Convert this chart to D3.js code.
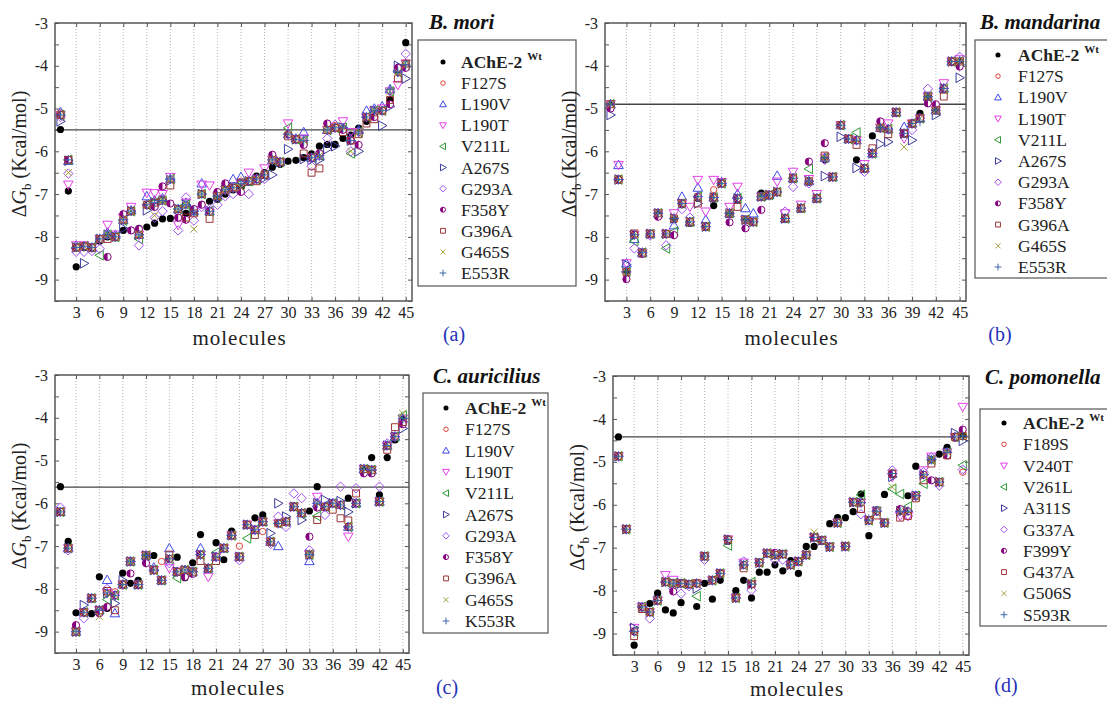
<!DOCTYPE html>
<html>
<head>
<meta charset="utf-8">
<script src="https://cdn.jsdelivr.net/npm/d3@7"></script>
<style>
  body { margin: 0; background: #fff; }
  svg { font-family: "Liberation Serif", "Times New Roman", serif; }
</style>
</head>
<body>
<svg id="chart" width="1107" height="702"></svg>
<script>
// molecules on the x axis, binding energies (kcal/mol) on y
const molecules = d3.range(1, 46)
const xTicks = d3.range(3, 46, 3)
const yTicks = [-3, -4, -5, -6, -7, -8, -9]

// ---- (a) B. mori ----
const namesA = ["AChE-2", "F127S", "L190V", "L190T", "V211L", "A267S", "G293A", "F358Y", "G396A", "G465S", "E553R"]
const wtA = [-5.49, -6.93, -8.70, -8.25, -8.25, -8.10, -8.00, -8.02, -7.85, -7.85, -7.80, -7.77, -7.68, -7.58, -7.57,
  -7.55, -7.45, -7.40, -7.24, -7.17, -7.12, -7.00, -6.90, -6.85, -6.72, -6.58, -6.50, -6.37, -6.30, -6.23,
  -6.21, -6.15, -6.06, -5.88, -5.84, -5.84, -5.70, -5.62, -5.46, -5.30, -5.12, -5.05, -4.80, -4.10, -3.46]
const f127sA = [-5.10, -6.20, -8.25, -8.20, -8.25, -8.05, -7.95, -8.00, -7.60, -7.40, -7.95, -7.25, -7.20, -7.12, -6.65,
  -7.35, -7.25, -7.40, -7.00, -7.40, -7.05, -6.90, -6.85, -6.70, -6.70, -6.62, -6.55, -6.20, -6.25, -5.60,
  -5.72, -5.75, -6.15, -6.05, -5.35, -5.40, -5.45, -5.75, -5.55, -5.20, -5.05, -5.05, -4.60, -4.15, -3.95]
const l190vA = [-5.08, -6.22, -8.20, -8.22, -8.25, -8.05, -7.90, -7.95, -7.60, -7.38, -7.95, -7.05, -7.15, -7.10, -6.65,
  -7.35, -7.20, -7.40, -6.75, -7.40, -7.05, -6.90, -6.65, -6.60, -6.70, -6.65, -6.55, -6.20, -6.25, -5.60,
  -5.70, -5.55, -6.15, -6.10, -5.50, -5.45, -5.45, -5.70, -5.50, -5.05, -5.00, -4.95, -4.55, -4.05, -3.95]
const l190tA = [-5.15, -6.78, -8.20, -8.20, -8.25, -8.05, -7.72, -7.95, -7.55, -7.30, -7.95, -6.97, -6.98, -7.00, -6.60,
  -7.72, -7.20, -7.40, -6.78, -6.80, -7.05, -6.90, -6.85, -6.75, -6.50, -6.65, -6.40, -6.20, -6.25, -5.35,
  -5.72, -5.70, -6.15, -6.10, -5.50, -5.45, -5.30, -5.55, -5.55, -5.20, -5.05, -5.00, -4.60, -4.45, -3.95]
const v211lA = [-5.15, -6.20, -8.25, -8.22, -8.25, -8.43, -7.95, -8.00, -7.62, -7.40, -8.05, -7.25, -7.20, -7.15, -6.65,
  -7.35, -7.25, -7.40, -7.00, -7.40, -7.05, -6.90, -6.85, -6.75, -6.70, -6.65, -6.55, -6.20, -6.25, -5.45,
  -5.72, -5.75, -6.15, -6.10, -5.50, -5.45, -5.45, -6.05, -5.55, -5.20, -5.05, -5.05, -4.60, -4.15, -3.98]
const a267sA = [-5.30, -6.22, -8.25, -8.62, -8.25, -8.05, -7.95, -8.00, -7.80, -7.40, -7.95, -7.38, -7.20, -7.15, -6.68,
  -7.35, -7.25, -7.40, -7.00, -7.40, -7.05, -6.90, -6.85, -6.75, -6.70, -6.65, -6.62, -6.55, -6.25, -5.95,
  -5.72, -6.18, -6.20, -6.20, -5.95, -5.88, -5.45, -5.75, -6.00, -5.20, -5.05, -5.40, -4.95, -4.00, -4.30]
const g293aA = [-5.20, -6.52, -8.35, -8.35, -8.33, -8.28, -7.95, -8.00, -7.60, -7.40, -8.20, -7.25, -7.55, -7.40, -6.65,
  -7.85, -7.08, -7.62, -7.30, -7.35, -7.25, -7.05, -7.00, -6.75, -7.00, -6.65, -6.65, -6.20, -6.25, -5.60,
  -5.72, -5.75, -6.35, -6.10, -5.70, -5.38, -5.45, -6.00, -5.55, -5.20, -5.05, -5.05, -4.60, -4.15, -3.72]
const f358yA = [-5.15, -6.20, -8.25, -8.22, -8.25, -8.05, -8.47, -8.00, -7.47, -7.85, -7.82, -7.25, -7.30, -6.82, -7.22,
  -7.55, -7.60, -7.35, -7.25, -7.40, -6.95, -6.75, -6.85, -6.95, -6.70, -6.65, -6.55, -6.08, -6.25, -5.60,
  -5.72, -5.85, -6.15, -6.05, -5.35, -5.45, -5.50, -5.75, -5.85, -5.20, -5.20, -5.05, -4.90, -4.05, -4.05]
const g396aA = [-5.15, -6.20, -8.25, -8.22, -8.25, -8.05, -8.05, -8.00, -7.60, -7.40, -7.95, -7.25, -7.20, -7.15, -6.80,
  -7.35, -7.55, -7.45, -7.00, -7.58, -7.05, -6.90, -6.85, -6.75, -6.70, -6.70, -6.55, -6.20, -6.25, -5.65,
  -5.72, -6.05, -6.50, -6.40, -5.50, -5.45, -5.55, -5.75, -5.60, -5.35, -5.25, -5.05, -4.80, -4.30, -3.95]
const g465sA = [-5.15, -6.50, -8.25, -8.22, -8.25, -8.05, -7.95, -8.00, -7.60, -7.40, -7.95, -7.25, -7.50, -7.15, -6.65,
  -7.35, -7.25, -7.82, -7.00, -7.45, -7.05, -6.90, -6.85, -6.85, -6.70, -6.65, -6.55, -6.20, -6.25, -5.60,
  -5.72, -5.75, -6.15, -6.10, -5.50, -5.45, -5.45, -6.00, -5.55, -5.20, -5.05, -5.05, -4.60, -4.15, -3.98]
const e553rA = [-5.15, -6.20, -8.25, -8.22, -8.25, -8.05, -7.95, -8.00, -7.60, -7.40, -7.95, -7.25, -7.20, -7.15, -6.65,
  -7.35, -7.25, -7.40, -7.00, -7.40, -7.05, -6.90, -6.85, -6.75, -6.70, -6.65, -6.55, -6.20, -6.25, -5.60,
  -5.72, -5.75, -6.15, -6.10, -5.50, -5.45, -5.45, -5.75, -5.55, -5.20, -5.05, -5.05, -4.55, -4.15, -3.98]

// ---- (b) B. mandarina ----
const namesB = namesA
const wtB = [-4.92, -6.66, -8.80, -7.95, -8.40, -7.95, -7.48, -7.95, -7.60, -7.25, -7.68, -7.10, -7.78, -7.27, -6.75,
  -7.48, -7.15, -7.62, -7.65, -6.98, -7.05, -6.97, -7.58, -6.65, -7.35, -6.72, -7.10, -6.20, -6.60, -5.40,
  -5.72, -6.20, -6.42, -5.64, -5.47, -5.50, -5.10, -5.60, -5.37, -5.11, -4.75, -5.05, -4.55, -3.92, -3.92]
const f127sB = [-4.90, -6.66, -8.82, -7.95, -8.37, -7.93, -7.45, -7.93, -7.57, -7.22, -7.65, -7.06, -7.76, -6.90, -6.75,
  -7.45, -7.10, -7.60, -7.65, -7.06, -7.02, -6.95, -7.57, -6.63, -7.33, -6.70, -7.10, -6.15, -6.60, -5.39,
  -5.71, -5.74, -6.40, -6.05, -5.45, -5.48, -5.09, -5.58, -5.35, -5.23, -4.72, -5.04, -4.53, -3.90, -3.90]
const l190vB = [-4.90, -6.32, -8.62, -8.05, -8.37, -7.93, -7.45, -7.93, -7.73, -7.06, -7.65, -6.85, -7.60, -7.08, -6.72,
  -7.45, -7.00, -7.33, -7.45, -7.06, -7.02, -6.57, -7.57, -6.63, -7.33, -6.70, -7.10, -6.15, -6.60, -5.39,
  -5.71, -5.74, -6.40, -6.05, -5.45, -5.48, -5.09, -5.43, -5.35, -5.23, -4.72, -5.04, -4.53, -3.90, -3.90]
const l190tB = [-4.90, -6.32, -8.62, -7.95, -8.37, -7.93, -7.45, -7.93, -7.45, -7.22, -7.30, -6.67, -7.41, -6.67, -6.72,
  -7.30, -6.83, -7.60, -7.65, -7.06, -7.02, -6.71, -7.45, -6.48, -7.25, -6.65, -7.00, -6.15, -6.60, -5.39,
  -5.71, -5.74, -6.30, -6.05, -5.45, -5.35, -5.09, -5.70, -5.35, -5.23, -4.72, -5.04, -4.41, -3.90, -3.85]
const v211lB = [-4.90, -6.66, -8.82, -8.10, -8.37, -7.93, -7.45, -8.27, -7.88, -7.22, -7.65, -7.06, -7.76, -7.08, -6.75,
  -7.45, -7.10, -7.60, -7.65, -7.06, -7.02, -6.95, -7.57, -6.63, -7.33, -6.41, -7.10, -6.15, -6.60, -5.39,
  -5.71, -5.56, -6.40, -6.05, -5.45, -5.48, -5.09, -5.58, -5.35, -5.23, -4.72, -5.04, -4.53, -3.90, -3.90]
const a267sB = [-5.15, -6.66, -8.65, -7.95, -8.37, -7.93, -7.45, -7.93, -7.57, -7.22, -7.65, -7.22, -7.76, -7.08, -6.75,
  -7.45, -7.10, -7.60, -7.65, -7.06, -7.02, -6.95, -7.57, -6.63, -7.33, -6.70, -7.10, -6.58, -6.60, -5.66,
  -5.71, -6.39, -6.40, -6.05, -5.83, -5.78, -5.09, -5.58, -5.74, -5.23, -4.72, -5.15, -4.53, -3.90, -4.28]
const g293aB = [-4.90, -6.66, -8.82, -8.27, -8.37, -7.97, -7.45, -8.20, -7.57, -7.35, -7.55, -7.06, -7.76, -7.08, -6.75,
  -7.45, -7.10, -7.60, -7.65, -7.06, -7.02, -6.95, -7.41, -6.83, -7.33, -6.75, -7.10, -6.20, -6.60, -5.39,
  -5.71, -5.74, -6.48, -6.05, -5.45, -5.48, -5.09, -5.58, -5.50, -5.23, -4.54, -5.04, -4.53, -3.90, -3.79]
const f358yB = [-5.00, -6.66, -8.99, -7.95, -8.40, -7.93, -7.53, -7.93, -7.96, -7.22, -7.65, -7.06, -7.76, -7.08, -6.75,
  -7.66, -7.10, -7.80, -7.65, -7.37, -7.02, -6.95, -7.57, -6.63, -7.33, -6.24, -7.10, -5.81, -6.60, -5.39,
  -5.71, -5.74, -6.40, -6.05, -5.30, -5.48, -5.09, -5.58, -5.35, -5.23, -4.88, -4.90, -4.53, -3.90, -4.02]
const g396aB = [-4.90, -6.66, -8.82, -7.92, -8.37, -7.93, -7.45, -7.93, -7.57, -7.22, -7.65, -7.22, -7.76, -7.08, -6.75,
  -7.45, -7.30, -7.60, -7.65, -7.06, -7.02, -6.95, -7.57, -6.63, -7.33, -6.70, -7.10, -6.10, -6.60, -5.39,
  -5.71, -5.85, -6.40, -5.93, -5.45, -5.60, -5.09, -5.58, -5.35, -5.23, -4.72, -5.04, -4.72, -3.90, -3.90]
const g465sB = [-4.90, -6.66, -8.82, -7.95, -8.37, -7.93, -7.45, -7.93, -7.57, -7.22, -7.65, -7.06, -7.76, -7.08, -6.75,
  -7.45, -7.10, -7.60, -7.65, -7.06, -7.02, -6.95, -7.57, -6.63, -7.33, -6.70, -7.10, -6.15, -6.60, -5.39,
  -5.71, -5.74, -6.40, -6.05, -5.45, -5.48, -5.09, -5.90, -5.35, -5.23, -4.72, -5.04, -4.53, -3.90, -3.90]
const e553rB = [-4.90, -6.66, -8.82, -7.95, -8.37, -7.93, -7.45, -7.93, -7.57, -7.22, -7.65, -7.06, -7.76, -7.08, -6.75,
  -7.45, -7.10, -7.60, -7.65, -7.06, -7.02, -6.95, -7.57, -6.63, -7.33, -6.70, -7.10, -6.15, -6.60, -5.39,
  -5.71, -5.74, -6.40, -6.05, -5.45, -5.48, -5.09, -5.58, -5.35, -5.30, -4.72, -5.04, -4.53, -3.90, -3.90]

// ---- (c) C. auricilius ----
const namesC = ["AChE-2", "F127S", "L190V", "L190T", "V211L", "A267S", "G293A", "F358Y", "G396A", "G465S", "K553R"]
const wtC = [-5.61, -6.89, -8.56, -8.55, -8.58, -7.72, -8.46, -8.15, -7.63, -7.87, -7.80, -7.22, -7.22, -7.80, -7.30,
  -7.26, -7.74, -7.39, -6.73, -7.52, -6.92, -7.32, -6.65, -7.25, -6.50, -6.34, -6.27, -6.90, -6.47, -6.45,
  -6.08, -6.23, -6.18, -5.61, -6.08, -6.00, -6.04, -5.88, -6.00, -5.20, -4.93, -5.80, -4.93, -4.52, -4.02]
const f127sC = [-6.20, -7.05, -9.00, -8.55, -8.22, -8.50, -8.10, -8.07, -7.90, -7.36, -7.90, -7.22, -7.56, -7.36, -7.30,
  -7.60, -7.56, -7.60, -7.20, -7.52, -7.25, -7.05, -6.75, -7.00, -6.50, -6.62, -6.66, -6.90, -6.47, -6.43,
  -6.08, -6.23, -7.20, -6.00, -6.08, -6.00, -6.04, -6.55, -6.00, -5.20, -5.22, -5.96, -4.65, -4.44, -4.02]
const l190vC = [-6.20, -7.05, -9.00, -8.55, -8.22, -8.50, -7.79, -8.57, -7.90, -7.36, -7.90, -7.22, -7.50, -7.80, -7.05,
  -7.60, -7.56, -7.60, -7.05, -7.52, -7.25, -7.05, -6.75, -7.25, -6.50, -6.62, -6.43, -6.90, -7.00, -6.43,
  -6.08, -6.23, -7.35, -6.00, -6.08, -6.00, -6.04, -6.55, -6.00, -5.20, -5.22, -5.96, -4.65, -4.44, -4.02]
const l190tC = [-6.20, -7.05, -9.00, -8.55, -8.22, -8.50, -8.10, -8.15, -7.90, -7.36, -7.90, -7.22, -7.56, -7.80, -7.52,
  -7.60, -7.56, -7.60, -7.20, -7.72, -7.25, -7.05, -6.75, -7.25, -6.50, -6.62, -6.43, -6.90, -6.47, -6.43,
  -6.08, -6.23, -7.20, -5.85, -6.08, -6.00, -6.04, -6.78, -6.00, -5.20, -5.22, -5.96, -4.65, -4.44, -4.02]
const v211lC = [-6.20, -7.05, -9.00, -8.55, -8.22, -8.50, -8.25, -8.15, -7.90, -7.36, -7.90, -7.22, -7.56, -7.80, -7.30,
  -7.75, -7.56, -7.60, -7.20, -7.52, -7.15, -7.05, -6.75, -7.25, -6.82, -6.62, -6.43, -6.90, -6.47, -6.43,
  -6.08, -6.23, -7.20, -6.30, -6.08, -6.00, -6.04, -6.55, -6.00, -5.20, -5.22, -5.96, -4.65, -4.44, -3.95]
const a267sC = [-6.20, -7.05, -9.00, -8.38, -8.22, -8.50, -8.10, -8.34, -7.80, -7.36, -7.90, -7.22, -7.56, -7.80, -7.30,
  -7.60, -7.56, -7.60, -7.20, -7.52, -7.25, -7.05, -6.75, -7.25, -6.50, -6.62, -6.43, -6.70, -6.00, -6.31,
  -6.08, -6.39, -7.20, -6.00, -5.92, -6.00, -5.95, -6.20, -6.00, -5.20, -5.22, -5.96, -4.65, -4.44, -4.25]
const g293aC = [-6.10, -7.10, -9.00, -8.69, -8.22, -8.50, -8.00, -8.15, -7.90, -7.36, -7.90, -7.22, -7.56, -7.80, -7.40,
  -7.60, -7.56, -7.60, -7.20, -7.52, -7.25, -7.05, -6.75, -7.33, -6.50, -6.62, -6.43, -6.95, -6.31, -6.55,
  -5.77, -5.88, -7.10, -6.00, -6.27, -6.00, -5.61, -6.55, -5.65, -5.20, -5.22, -5.61, -4.60, -4.44, -4.02]
const f358yC = [-6.20, -7.05, -8.85, -8.55, -8.22, -8.57, -8.42, -8.15, -7.90, -7.64, -7.90, -7.40, -7.56, -7.80, -7.30,
  -7.60, -7.72, -7.65, -7.20, -7.52, -7.25, -7.05, -6.75, -7.25, -6.50, -6.62, -6.43, -6.90, -6.47, -6.43,
  -6.08, -6.23, -6.78, -6.10, -6.08, -6.00, -6.04, -6.55, -6.00, -5.30, -5.30, -5.96, -4.65, -4.44, -4.15]
const g396aC = [-6.20, -7.05, -9.00, -8.55, -8.22, -8.50, -8.05, -8.50, -7.90, -7.36, -7.90, -7.22, -7.56, -7.80, -7.20,
  -7.60, -7.56, -7.60, -7.35, -7.52, -7.35, -7.05, -6.75, -7.25, -6.50, -6.74, -6.43, -6.90, -6.47, -6.43,
  -6.08, -6.23, -7.20, -6.39, -6.08, -6.15, -6.35, -6.40, -5.77, -5.20, -5.22, -5.96, -4.75, -4.22, -4.10]
const g465sC = [-6.20, -7.05, -9.00, -8.55, -8.22, -8.65, -8.10, -8.15, -7.90, -7.36, -7.90, -7.22, -7.56, -7.80, -7.30,
  -7.60, -7.56, -7.60, -7.20, -7.52, -7.25, -7.05, -6.75, -7.25, -6.50, -6.62, -6.43, -6.90, -6.47, -6.43,
  -6.08, -6.23, -7.20, -6.00, -6.08, -6.00, -6.04, -6.55, -6.00, -5.20, -5.22, -5.96, -4.65, -4.44, -3.90]
const k553rC = [-6.20, -7.05, -9.00, -8.55, -8.22, -8.50, -8.10, -8.15, -7.90, -7.36, -7.90, -7.22, -7.56, -7.80, -7.30,
  -7.60, -7.56, -7.60, -7.20, -7.52, -7.25, -7.05, -6.75, -7.25, -6.50, -6.62, -6.43, -6.90, -6.47, -6.43,
  -6.08, -6.23, -7.20, -6.00, -6.08, -6.00, -6.04, -6.55, -6.00, -5.20, -5.22, -5.96, -4.65, -4.44, -4.02]

// ---- (d) C. pomonella ----
const namesD = ["AChE-2", "F189S", "V240T", "V261L", "A311S", "G337A", "F399Y", "G437A", "G506S", "S593R"]
const wtD = [-4.42, -6.58, -9.27, -8.40, -8.30, -8.06, -8.45, -8.52, -8.28, -7.87, -8.37, -7.83, -8.20, -7.76, -6.85,
  -8.00, -7.76, -8.17, -7.57, -7.57, -7.40, -7.54, -7.30, -7.60, -6.97, -6.97, -6.85, -6.44, -6.30, -6.30,
  -6.16, -5.75, -6.72, -6.12, -5.76, -5.30, -6.15, -5.79, -5.10, -5.30, -4.95, -4.82, -4.66, -4.45, -4.37]
const f189sD = [-4.87, -6.57, -8.95, -8.38, -8.50, -8.23, -7.80, -7.83, -7.83, -7.85, -7.83, -7.20, -7.76, -7.60, -6.81,
  -8.17, -7.40, -7.85, -7.35, -7.13, -7.17, -7.15, -7.40, -7.32, -7.17, -6.76, -6.83, -6.98, -6.42, -6.97,
  -5.94, -5.95, -6.36, -6.15, -6.42, -5.27, -6.15, -6.15, -5.79, -5.30, -4.95, -5.47, -4.78, -4.42, -5.24]
const v240tD = [-4.87, -6.57, -8.87, -8.38, -8.50, -8.23, -7.64, -7.75, -7.83, -7.85, -7.83, -7.20, -7.76, -7.60, -6.81,
  -8.17, -7.35, -7.85, -7.35, -7.13, -7.17, -7.15, -7.40, -7.32, -7.17, -6.76, -6.83, -6.98, -6.42, -6.97,
  -5.94, -5.95, -6.36, -6.15, -6.42, -5.35, -6.26, -6.26, -5.79, -5.20, -4.88, -5.47, -4.78, -4.42, -3.72]
const v261lD = [-4.87, -6.57, -8.95, -8.38, -8.50, -8.23, -7.80, -7.83, -7.83, -7.85, -8.13, -7.20, -7.76, -7.60, -6.95,
  -8.17, -7.40, -7.80, -7.35, -7.13, -7.17, -7.15, -7.40, -7.32, -7.17, -6.76, -6.83, -6.98, -6.42, -6.97,
  -5.94, -5.77, -6.36, -6.15, -6.42, -5.63, -5.75, -6.04, -5.79, -5.51, -4.95, -5.47, -4.78, -4.42, -5.08]
const a311sD = [-4.87, -6.57, -8.87, -8.38, -8.50, -8.23, -7.80, -7.83, -7.83, -7.85, -7.95, -7.20, -7.76, -7.60, -6.81,
  -8.17, -7.40, -7.85, -7.35, -7.13, -7.17, -7.15, -7.40, -7.32, -7.17, -6.76, -6.83, -6.98, -6.42, -6.97,
  -5.94, -5.95, -6.36, -6.15, -6.42, -5.35, -6.15, -6.15, -5.79, -5.30, -4.95, -5.47, -4.78, -4.33, -4.51]
const g337aD = [-4.87, -6.57, -8.95, -8.38, -8.65, -8.23, -7.80, -7.95, -8.07, -7.90, -7.83, -7.28, -7.76, -7.60, -6.81,
  -8.17, -7.32, -7.99, -7.35, -7.13, -7.28, -7.28, -7.40, -7.32, -7.17, -6.76, -6.83, -6.98, -6.42, -6.97,
  -5.94, -6.22, -6.36, -6.15, -6.42, -5.20, -6.15, -6.26, -5.79, -5.24, -4.90, -5.55, -4.78, -4.42, -5.18]
const f399yD = [-4.87, -6.57, -8.95, -8.38, -8.50, -8.23, -7.80, -8.02, -7.83, -7.85, -7.83, -7.20, -7.76, -7.60, -6.81,
  -8.17, -7.40, -7.85, -7.35, -7.13, -7.12, -7.15, -7.40, -7.32, -7.17, -6.76, -6.83, -6.98, -6.42, -6.97,
  -5.94, -5.95, -6.36, -6.15, -6.42, -5.27, -6.10, -6.15, -5.79, -5.30, -5.43, -5.47, -4.85, -4.42, -4.25]
const g437aD = [-4.87, -6.57, -9.06, -8.43, -8.50, -8.23, -7.80, -7.83, -7.83, -7.85, -7.83, -7.20, -7.76, -7.60, -6.81,
  -8.17, -7.48, -7.85, -7.35, -7.13, -7.17, -7.15, -7.40, -7.32, -7.17, -6.76, -6.83, -6.98, -6.42, -6.97,
  -5.94, -6.10, -6.36, -6.25, -6.42, -5.27, -6.30, -6.26, -5.85, -5.43, -5.04, -5.47, -4.85, -4.42, -4.40]
const g506sD = [-4.87, -6.57, -8.95, -8.38, -8.50, -8.23, -7.80, -7.83, -7.83, -7.85, -7.83, -7.20, -7.76, -7.60, -6.81,
  -8.17, -7.40, -7.80, -7.35, -7.13, -7.17, -7.15, -7.40, -7.32, -7.17, -6.64, -6.83, -6.98, -6.42, -6.97,
  -5.94, -5.95, -6.36, -6.15, -6.42, -5.59, -6.15, -6.15, -5.79, -5.30, -4.95, -5.47, -4.78, -4.42, -4.40]
const s593rD = [-4.87, -6.57, -8.95, -8.38, -8.50, -8.23, -7.80, -7.83, -7.83, -7.85, -7.83, -7.20, -7.76, -7.60, -6.81,
  -8.17, -7.40, -7.85, -7.35, -7.13, -7.17, -7.15, -7.40, -7.32, -7.17, -6.76, -6.83, -6.98, -6.42, -6.97,
  -5.94, -5.95, -6.36, -6.15, -6.42, -5.27, -6.15, -6.15, -5.79, -5.30, -4.95, -5.47, -4.78, -4.42, -4.40]

// marker styles, one per legend row
const WT = { shape: "dot", color: "#000" }
const RED = { shape: "circle", color: "#e0443a" }
const UP = { shape: "up", color: "#3f48e6" }
const DOWN = { shape: "down", color: "#e440e8" }
const LEFT = { shape: "left", color: "#2f9a35" }
const RIGHT = { shape: "right", color: "#3b3b9c" }
const DIAM = { shape: "diamond", color: "#a252f0" }
const HALF = { shape: "half", color: "#86007f" }
const SQR = { shape: "square", color: "#9c3434" }
const CROSS = { shape: "x", color: "#a3a13e" }
const PLUS = { shape: "plus", color: "#3a66a8" }

const panels = [
  {
    title: "B. mori", letter: "(a)", names: namesA, cutoff: -5.5,
    series: [wtA, f127sA, l190vA, l190tA, v211lA, a267sA, g293aA, f358yA, g396aA, g465sA, e553rA],
    styles: [WT, RED, UP, DOWN, LEFT, RIGHT, DIAM, HALF, SQR, CROSS, PLUS],
    x0: 55, x1: 412, y0: 23, y1: 301, labelY: 345,
    legend: { x: 418, y: 40, w: 158, h: 246, mx: 443, tx: 461, first: 62, step: 21.1 },
    titleX: 429, titleY: 29, letterX: 454, letterY: 341
  },
  {
    title: "B. mandarina", letter: "(b)", names: namesB, cutoff: -4.9,
    series: [wtB, f127sB, l190vB, l190tB, v211lB, a267sB, g293aB, f358yB, g396aB, g465sB, e553rB],
    styles: [WT, RED, UP, DOWN, LEFT, RIGHT, DIAM, HALF, SQR, CROSS, PLUS],
    x0: 605, x1: 966, y0: 23, y1: 301, labelY: 345,
    legend: { x: 975, y: 40, w: 150, h: 238, mx: 998, tx: 1018, first: 55, step: 21.2 },
    titleX: 980, titleY: 29, letterX: 1000, letterY: 341
  },
  {
    title: "C. auricilius", letter: "(c)", names: namesC, cutoff: -5.62,
    series: [wtC, f127sC, l190vC, l190tC, v211lC, a267sC, g293aC, f358yC, g396aC, g465sC, k553rC],
    styles: [WT, RED, UP, DOWN, LEFT, RIGHT, DIAM, HALF, SQR, CROSS, PLUS],
    x0: 55, x1: 409, y0: 375, y1: 653, labelY: 695,
    legend: { x: 423, y: 393, w: 125, h: 240, mx: 446, tx: 465, first: 408, step: 21.3 },
    titleX: 433, titleY: 383, letterX: 447, letterY: 694
  },
  {
    title: "C. pomonella", letter: "(d)", names: namesD, cutoff: -4.42,
    series: [wtD, f189sD, v240tD, v261lD, a311sD, g337aD, f399yD, g437aD, g506sD, s593rD],
    styles: [WT, RED, DOWN, LEFT, RIGHT, DIAM, HALF, SQR, CROSS, PLUS],
    x0: 613, x1: 969, y0: 376, y1: 655, labelY: 696,
    legend: { x: 980, y: 409, w: 150, h: 217, mx: 1004, tx: 1023, first: 423, step: 21.3 },
    titleX: 985, titleY: 384, letterX: 1006, letterY: 692
  }
]

const svg = d3.select("#chart")

function markerPath(shape, r) {
  const s = r * 0.75
  switch (shape) {
    case "up": return `M0,${-r}L${r},${s}L${-r},${s}Z`
    case "down": return `M0,${r}L${r},${-s}L${-r},${-s}Z`
    case "left": return `M${-r},0L${s},${-r}L${s},${r}Z`
    case "right": return `M${r},0L${-s},${-r}L${-s},${r}Z`
    case "diamond": return `M0,${-r}L${r},0L0,${r}L${-r},0Z`
    case "square": return `M${-s},${-s}H${s}V${s}H${-s}Z`
    case "x": return `M${-s},${-s}L${s},${s}M${-s},${s}L${s},${-s}`
    case "plus": return `M${-r},0H${r}M0,${-r}V${r}`
    default: return `M${r},0A${r},${r} 0 1,1 ${-r},0A${r},${r} 0 1,1 ${r},0Z`
  }
}

function drawMarker(g, style, cx, cy, k) {
  const sizes = { dot: 3.6, circle: 3.2, half: 3.6, square: 4.6, diamond: 4.7 }
  const r = (sizes[style.shape] || 4.8) * k
  const m = g.append("g").attr("transform", `translate(${cx},${cy})`)
  if (style.shape === "dot") {
    m.append("path").attr("d", markerPath("circle", r)).attr("fill", style.color)
  } else if (style.shape === "half") {
    m.append("path").attr("d", markerPath("circle", r))
      .attr("fill", "#fff").attr("stroke", style.color).attr("stroke-width", 1)
    m.append("path").attr("d", `M0,${-r}A${r},${r} 0 0,0 0,${r}Z`).attr("fill", style.color)
  } else {
    m.append("path").attr("d", markerPath(style.shape, r))
      .attr("fill", "none").attr("stroke", style.color).attr("stroke-width", 1)
  }
}

panels.forEach(p => {
  const g = svg.append("g")
  const x = d3.scaleLinear().domain([0.3, 45.8]).range([p.x0, p.x1])
  const y = d3.scaleLinear().domain([-9.5, -3]).range([p.y1, p.y0])

  // dotted vertical grid
  g.append("g").selectAll("line")
    .data(xTicks)
    .enter().append("line")
    .attr("x1", d => x(d)).attr("x2", d => x(d))
    .attr("y1", p.y0).attr("y2", p.y1)
    .attr("stroke", "#b8b8b8").attr("stroke-width", 1)
    .attr("stroke-dasharray", "1,2")

  // axes with inward ticks
  const minorY = d3.range(-9.5, -2.9, 0.5)
  const fmt = d => Number.isInteger(d) && yTicks.includes(d) ? String(d) : ""
  g.append("g").attr("transform", `translate(${p.x0},0)`)
    .call(d3.axisLeft(y).tickValues(minorY).tickSize(-4).tickPadding(7).tickFormat(fmt))
  g.append("g").attr("transform", `translate(${p.x1},0)`)
    .call(d3.axisRight(y).tickValues(minorY).tickSize(-4).tickFormat(""))
  g.append("g").attr("transform", `translate(0,${p.y1})`)
    .call(d3.axisBottom(x).tickValues(xTicks).tickSize(-4).tickPadding(6).tickFormat(d => d))
  g.append("g").attr("transform", `translate(0,${p.y0})`)
    .call(d3.axisTop(x).tickValues(xTicks).tickSize(-4).tickFormat(""))
  g.selectAll(".domain").remove()
  g.selectAll(".tick line").attr("stroke", "#555")
  g.selectAll(".tick text")
    .style("font-family", "Liberation Serif, serif")
    .style("font-size", "16px").attr("fill", "#222")

  // cutoff line from the wild type of molecule 1
  g.append("line")
    .attr("x1", p.x0).attr("x2", p.x1)
    .attr("y1", y(p.cutoff)).attr("y2", y(p.cutoff))
    .attr("stroke", "#444").attr("stroke-width", 1.3)

  g.append("rect")
    .attr("x", p.x0).attr("y", p.y0)
    .attr("width", p.x1 - p.x0).attr("height", p.y1 - p.y0)
    .attr("fill", "none").attr("stroke", "#555").attr("stroke-width", 1.5)

  // points, wild type first so mutants sit on top
  p.series.forEach((vals, si) => {
    const sg = g.append("g")
    vals.forEach((v, i) => drawMarker(sg, p.styles[si], x(molecules[i]), y(v), 1))
  })

  // axis titles
  g.append("text")
    .attr("x", (p.x0 + p.x1) / 2 + 6).attr("y", p.labelY)
    .attr("text-anchor", "middle")
    .style("font-size", "21px").style("letter-spacing", "1px")
    .attr("fill", "#222")
    .text("molecules")

  const yl = g.append("text")
    .attr("transform", `translate(${p.x0 - 29},${(p.y0 + p.y1) / 2 - 8}) rotate(-90)`)
    .attr("text-anchor", "middle")
    .style("font-size", "20px").attr("fill", "#222")
  yl.append("tspan").text("Δ")
  yl.append("tspan").style("font-style", "italic").text("G")
  yl.append("tspan").attr("dy", 5).style("font-size", "13px").text("b")
  yl.append("tspan").attr("dy", -5).text("  (Kcal/mol)")

  // species title and panel letter
  g.append("text")
    .attr("x", p.titleX).attr("y", p.titleY)
    .style("font-size", "21px").style("font-weight", "bold").style("font-style", "italic")
    .attr("fill", "#111")
    .text(p.title)

  g.append("text")
    .attr("x", p.letterX).attr("y", p.letterY)
    .attr("text-anchor", "middle")
    .style("font-size", "20px").attr("fill", "#2430b8")
    .text(p.letter)

  // legend
  const L = p.legend
  const lg = g.append("g")
  lg.append("rect")
    .attr("x", L.x).attr("y", L.y).attr("width", L.w).attr("height", L.h)
    .attr("fill", "#fff").attr("stroke", "#555").attr("stroke-width", 1.2)
  p.names.forEach((name, i) => {
    const cy = L.first + i * L.step
    drawMarker(lg, p.styles[i], L.mx, cy, 0.7)
    const t = lg.append("text")
      .attr("x", L.tx).attr("y", cy + 6)
      .style("font-size", "17.5px").attr("fill", "#222")
    if (i === 0) {
      t.style("font-weight", "bold").text(name)
      t.append("tspan").attr("dx", 5).attr("dy", -8).style("font-size", "11px").text("Wt")
    } else {
      t.text(name)
    }
  })
})
</script>
</body>
</html>
